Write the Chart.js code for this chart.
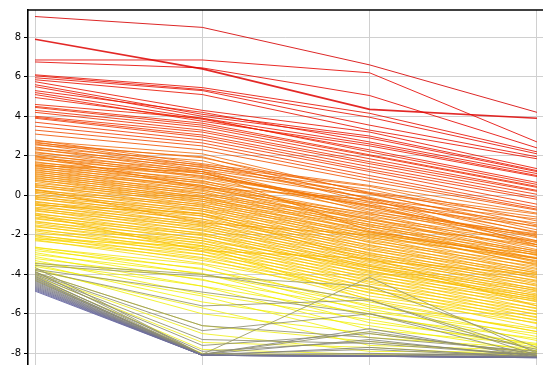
<!DOCTYPE html>
<html><head><meta charset="utf-8">
<script src="https://cdn.jsdelivr.net/npm/chart.js@4/dist/chart.umd.min.js"></script>
<style>html,body{margin:0;padding:0;background:#fff;overflow:hidden}</style>
</head><body>
<canvas id="c" width="543" height="365"></canvas>
<script>
// four parallel axes (x positions 0..3)
const axes = ['A', 'B', 'C', 'D'];
const yTicks = [-8, -6, -4, -2, 0, 2, 4, 6, 8];

// each row: value on axis A, B, C, D
const redLines = [
  [9.05, 8.5, 6.6, 4.2],
  [7.9, 6.4, 4.35, 3.9],
  [6.85, 6.85, 6.2, 2.7],
  [6.75, 6.45, 5.05, 2.4],
  [6.1, 5.45, 4.15, 2.2],
  [6.05, 5.35, 3.95, 2.1],
  [5.95, 5.3, 3.55, 1.95],
  [5.85, 5.1, 3.3, 1.85],
  [5.75, 4.3, 3.2, 1.35],
  [5.6, 4.1, 3.0, 1.25],
  [5.5, 4.0, 2.9, 1.2],
  [5.3, 4.2, 2.7, 1.1],
  [5.2, 3.9, 2.6, 1.0],
  [5.1, 3.75, 2.5, 0.95],
  [4.95, 3.85, 2.3, 0.65],
  [4.6, 3.9, 2.2, 0.55],
  [4.5, 3.65, 2.05, 0.45],
  [4.45, 3.55, 2.0, 0.4],
  [4.3, 3.45, 1.85, 0.25],
  [4.2, 3.3, 1.7, 0.2],
  [4.0, 3.2, 1.6, 0.05],
  [3.95, 3.05, 1.45, -0.1],
  [3.9, 2.95, 1.3, -0.2],
  [3.7, 2.8, 1.2, -0.45],
  [3.5, 2.65, 1.0, -0.6],
  [3.3, 2.5, 0.85, -0.7],
  [3.1, 2.3, 0.7, -0.75]
];

const orangeLines = [
  [2.8, 1.6, 0.5, -0.9],
  [2.75, 2.1, 0.1, -1.1],
  [2.7, 1.5, 0.45, -1.3],
  [2.65, 1.9, 0.15, -0.95],
  [2.6, 1.4, 0.3, -1.5],
  [2.55, 1.95, -0.2, -1.2],
  [2.45, 1.3, 0.1, -1.75],
  [2.4, 1.75, -0.35, -1.4],
  [2.35, 1.2, -0.1, -1.9],
  [2.3, 1.55, 0.05, -1.6],
  [2.2, 1.1, -0.5, -1.55],
  [2.15, 1.45, -0.15, -2.1],
  [2.1, 0.95, -0.3, -1.85],
  [2.0, 1.3, -0.7, -2.0],
  [2.0, 0.4, -0.2, -2.5],
  [1.95, 0.9, -0.4, -2.3],
  [1.9, 1.2, -0.85, -1.95],
  [1.85, 0.7, -0.5, -2.4],
  [1.8, 1.1, -0.6, -2.15],
  [1.7, 0.6, -0.95, -2.05],
  [1.65, 1.0, -0.55, -2.6],
  [1.6, 0.5, -1.1, -2.3],
  [1.55, 0.85, -0.75, -2.5],
  [1.5, 0.35, -0.9, -2.75],
  [1.5, 1.2, -1.8, -3.2],
  [1.45, 0.75, -1.25, -2.35],
  [1.4, 0.25, -1.0, -2.85],
  [1.35, 0.65, -1.35, -2.6],
  [1.3, 0.1, -1.15, -2.95],
  [1.25, 0.5, -1.5, -2.5],
  [1.2, 0.0, -1.2, -3.05],
  [1.15, 0.45, -1.6, -2.8],
  [1.1, -0.1, -1.35, -3.2],
  [1.05, 0.3, -1.7, -2.9],
  [1.0, -0.2, -1.45, -3.35],
  [0.95, 0.2, -1.85, -3.0],
  [0.9, -0.3, -1.55, -3.4],
  [0.85, 0.1, -1.9, -3.15],
  [0.8, -0.4, -1.7, -3.55],
  [0.75, -0.05, -2.05, -3.3],
  [0.7, -0.5, -1.85, -3.5],
  [0.6, -0.1, -2.15, -3.2],
  [0.55, -0.6, -1.95, -3.7],
  [0.5, -0.2, -2.3, -3.45],
  [0.45, -0.7, -2.1, -3.85],
  [0.4, -0.3, -2.4, -3.6],
  [0.3, -0.8, -2.2, -3.95],
  [0.3, -1.4, -2.0, -3.0],
  [0.25, -0.45, -2.55, -3.75],
  [0.2, -0.95, -2.35, -4.1],
  [0.15, -0.55, -2.7, -3.9],
  [0.1, -1.05, -2.5, -4.2],
  [0.0, -0.7, -2.8, -4.0],
  [-0.05, -1.2, -2.6, -4.35],
  [-0.1, -0.8, -2.95, -4.15],
  [-0.15, -1.3, -2.75, -4.5],
  [-0.2, -0.95, -3.05, -4.3],
  [-0.3, -1.45, -2.9, -4.6],
  [-0.35, -1.05, -3.2, -4.4],
  [-0.4, -1.55, -3.0, -4.75],
  [-0.45, -1.2, -3.35, -4.55],
  [-0.5, -1.7, -3.1, -4.85],
  [-0.5, -0.9, -3.3, -4.0],
  [-0.6, -1.35, -3.5, -4.7],
  [-0.65, -1.8, -3.25, -5.0],
  [-0.7, -1.5, -3.6, -4.8],
  [-0.75, -1.95, -3.4, -5.1],
  [-0.8, -1.6, -3.7, -4.9],
  [-0.9, -2.05, -3.55, -5.2],
  [-0.95, -1.75, -3.85, -5.05],
  [-1.0, -2.2, -3.7, -5.3],
  [-1.0, -2.8, -3.2, -5.6]
];

const yellowLines = [
  [-1.1, -1.9, -3.9, -5.15],
  [-1.15, -2.3, -3.6, -5.4],
  [-1.2, -2.0, -4.05, -5.25],
  [-1.3, -2.45, -3.8, -5.6],
  [-1.35, -2.15, -4.2, -5.35],
  [-1.4, -2.55, -3.95, -5.75],
  [-1.5, -2.3, -4.35, -5.5],
  [-1.55, -2.7, -4.1, -5.9],
  [-1.6, -2.4, -4.5, -5.7],
  [-1.7, -2.85, -4.25, -6.05],
  [-1.75, -2.55, -4.65, -5.85],
  [-1.8, -3.0, -4.4, -6.2],
  [-1.9, -2.7, -4.8, -6.0],
  [-2.0, -3.15, -4.6, -6.35],
  [-2.05, -2.85, -4.95, -6.15],
  [-2.1, -3.3, -4.75, -6.5],
  [-2.2, -3.0, -5.1, -6.3],
  [-2.2, -2.6, -5.3, -6.9],
  [-2.25, -3.45, -4.9, -6.7],
  [-2.3, -3.2, -5.25, -6.45],
  [-2.62, -3.75, -5.4, -6.9],
  [-2.65, -3.5, -5.65, -6.75],
  [-2.7, -4.0, -5.55, -7.15],
  [-2.8, -3.7, -5.9, -7.0],
  [-2.9, -4.3, -5.75, -7.35],
  [-3.0, -3.95, -6.15, -7.25],
  [-3.1, -4.6, -6.0, -7.6],
  [-3.2, -4.25, -6.45, -7.5],
  [-3.3, -5.0, -6.3, -7.7],
  [-3.4, -4.6, -6.8, -7.55],
  [-3.5, -5.4, -6.6, -7.9],
  [-3.6, -5.1, -7.2, -7.75],
  [-3.7, -6.0, -7.0, -8.0],
  [-3.8, -5.7, -7.6, -7.85],
  [-3.9, -6.6, -7.4, -8.1],
  [-4.0, -7.0, -7.9, -7.95],
  [-4.1, -7.45, -7.7, -8.15],
  [-4.2, -7.8, -8.05, -8.05],
  [-4.3, -8.0, -8.1, -8.2]
];

const grayLines = [
  [-3.45, -4.0, -5.3, -7.9],
  [-3.55, -4.1, -4.6, -7.7],
  [-3.65, -8.05, -4.15, -8.0],
  [-3.75, -4.9, -6.0, -7.8],
  [-3.8, -5.6, -5.3, -8.1],
  [-3.85, -8.05, -6.9, -8.1],
  [-3.9, -6.6, -7.2, -7.9],
  [-3.95, -6.85, -6.0, -8.15],
  [-4.0, -7.3, -7.5, -8.1],
  [-4.05, -7.6, -7.0, -8.0],
  [-4.1, -8.05, -7.8, -8.2],
  [-4.15, -7.9, -7.4, -8.1],
  [-4.2, -8.1, -8.0, -8.15],
  [-4.25, -8.05, -7.3, -8.2],
  [-4.3, -8.1, -8.1, -8.0],
  [-4.35, -8.05, -6.75, -8.2],
  [-4.4, -8.1, -8.1, -8.15],
  [-4.45, -8.1, -7.7, -8.2],
  [-4.5, -8.1, -8.15, -8.2],
  [-4.55, -8.1, -8.1, -8.2],
  [-4.6, -8.1, -8.15, -8.2]
];

const blueLines = [
  [-4.65, -8.1, -8.15, -8.2],
  [-4.7, -8.1, -8.15, -8.2],
  [-4.75, -8.1, -8.15, -8.22],
  [-4.8, -8.1, -8.15, -8.22],
  [-4.85, -8.1, -8.15, -8.22]
];

// colour maps keyed on the first-axis value
const warmStops = [
  [9.1, [215, 0, 0]], [7, [228, 4, 0]], [5, [238, 30, 0]], [3.5, [242, 65, 0]],
  [2.8, [240, 100, 0]], [1.5, [244, 128, 0]], [0, [247, 165, 0]], [-1, [249, 188, 0]],
  [-2, [250, 208, 0]], [-2.8, [244, 234, 0]], [-3.5, [240, 240, 0]], [-4.4, [236, 236, 20]]
];
const coolStops = [
  [-3.4, [160, 160, 95]], [-4.0, [140, 140, 112]], [-4.5, [124, 124, 132]], [-4.9, [100, 100, 168]]
];
function cmap(stops, v) {
  if (v >= stops[0][0]) return stops[0][1];
  for (let i = 1; i < stops.length; i++) {
    const [v1, c1] = stops[i - 1], [v2, c2] = stops[i];
    if (v >= v2) {
      const t = (v1 - v) / (v1 - v2);
      return c1.map((c, k) => Math.round(c + (c2[k] - c) * t));
    }
  }
  return stops[stops.length - 1][1];
}
const rgba = (c, a) => `rgba(${c[0]},${c[1]},${c[2]},${a})`;

// dataset 0 is drawn on top in Chart.js, so the grey/blue lines go first
const datasets = [];
function addGroup(rows, stops, alpha) {
  rows.forEach(r => {
    datasets.push({
      data: r.map((v, i) => ({ x: i, y: v })),
      borderColor: rgba(cmap(stops, r[0]), alpha),
      borderWidth: (r[0] === 7.9) ? 1.6 : 1,
      pointRadius: 0,
      tension: 0,
      fill: false
    });
  });
}
addGroup(blueLines, coolStops, 0.9);
addGroup(grayLines, coolStops, 0.85);
addGroup(redLines, warmStops, 0.85);
addGroup(orangeLines, warmStops, 0.8);
addGroup(yellowLines, warmStops, 0.8);

const frame = {
  id: 'frame',
  afterDraw(chart) {
    const { ctx, chartArea: a } = chart;
    ctx.save();
    ctx.strokeStyle = '#000';
    ctx.lineWidth = 1.6;
    ctx.beginPath();
    ctx.moveTo(a.left, a.top);
    ctx.lineTo(a.right, a.top);
    ctx.stroke();
    ctx.restore();
  }
};

new Chart(document.getElementById('c'), {
  type: 'line',
  data: { datasets },
  options: {
    responsive: false,
    devicePixelRatio: 1,
    animation: false,
    events: [],
    layout: { padding: { top: 10, left: 0, right: 0, bottom: 0 } },
    plugins: { legend: { display: false }, tooltip: { enabled: false } },
    scales: {
      x: {
        type: 'linear',
        min: -0.042, max: 3.036,
        afterBuildTicks: s => { s.ticks = axes.map((_, i) => ({ value: i })); },
        ticks: { display: false },
        grid: { color: '#d0d0d0', lineWidth: 1, drawTicks: false },
        border: { display: false },
        afterFit: s => { s.height = 0; s.paddingLeft = 0; s.paddingRight = 0; s.paddingTop = 0; s.paddingBottom = 0; }
      },
      y: {
        min: -8.59, max: 9.38,
        afterBuildTicks: s => { s.ticks = yTicks.map(v => ({ value: v })); },
        ticks: { color: '#000', font: { family: 'DejaVu Sans', size: 10 }, padding: 3 },
        grid: { color: '#d0d0d0', lineWidth: 1, tickLength: 4, tickColor: '#000', tickWidth: 1 },
        border: { display: true, color: '#000', width: 1.6 },
        afterFit: s => { s.width = 28; s.paddingTop = 0; s.paddingBottom = 0; s.paddingLeft = 0; s.paddingRight = 0; }
      }
    }
  },
  plugins: [frame]
});
</script>
</body></html>
